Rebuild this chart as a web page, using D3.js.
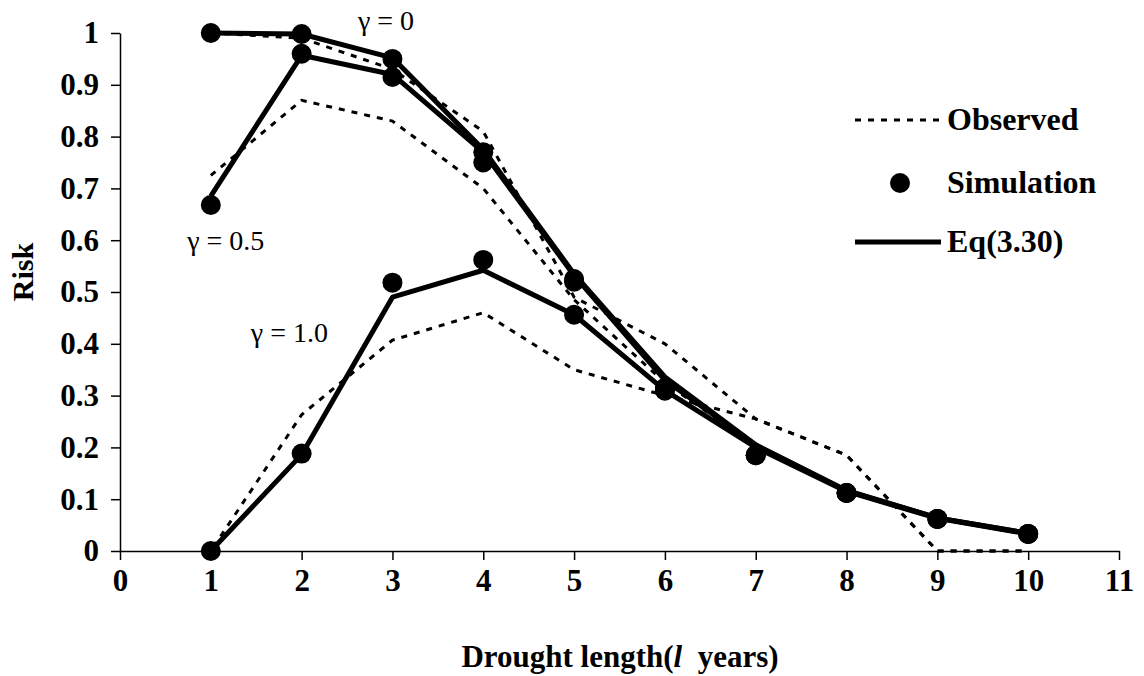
<!DOCTYPE html>
<html>
<head>
<meta charset="utf-8">
<script src="https://cdn.jsdelivr.net/npm/d3@7/dist/d3.min.js"></script>
<style>
  body { margin: 0; background: #fff; }
  text { font-family: "Liberation Serif", "Times New Roman", serif; fill: #000; }
</style>
</head>
<body>
<div id="chart"></div>
<script>
'use strict';

// drought length (years)
let years = [1, 2, 3, 4, 5, 6, 7, 8, 9, 10];
let xTicks = [0, 1, 2, 3, 4, 5, 6, 7, 8, 9, 10, 11];
let yTicks = [0, 0.1, 0.2, 0.3, 0.4, 0.5, 0.6, 0.7, 0.8, 0.9, 1];

// observed risk
let obsG0 = [1.0, 0.99, 0.93, 0.81, 0.49, 0.40, 0.255, 0.185, 0, 0];
let obsG05 = [0.725, 0.87, 0.83, 0.70, 0.485, 0.325, 0.203, 0.116, 0.064, 0.034];
let obsG1 = [0, 0.263, 0.407, 0.46, 0.35, 0.30, 0.255, 0.185, 0, 0];

// simulated risk
let simG0 = [1.0, 0.998, 0.95, 0.77, 0.525, 0.315, 0.185, 0.112, 0.062, 0.033];
let simG05 = [0.668, 0.96, 0.915, 0.75, 0.52, 0.31, 0.185, 0.112, 0.062, 0.033];
let simG1 = [0, 0.188, 0.518, 0.562, 0.456, 0.31, 0.185, 0.112, 0.062, 0.033];

// Eq(3.30)
let eqG0 = [1.0, 0.998, 0.952, 0.775, 0.535, 0.336, 0.205, 0.117, 0.064, 0.034];
let eqG05 = [0.685, 0.957, 0.92, 0.77, 0.532, 0.33, 0.204, 0.116, 0.064, 0.034];
let eqG1 = [0, 0.186, 0.49, 0.542, 0.456, 0.31, 0.2, 0.115, 0.063, 0.033];

let gammaLabels = [
    { text: 'γ = 0', x: 2.62, y: 1.0 },
    { text: 'γ = 0.5', x: 0.74, y: 0.575 },
    { text: 'γ = 1.0', x: 1.44, y: 0.398 }
];

let legendItems = ['Observed', 'Simulation', 'Eq(3.30)'];

draw();

function draw() {
    let width = 1144, height = 676;
    let svg = d3.select('#chart').append('svg')
        .attr('width', width)
        .attr('height', height);

    let x = d3.scaleLinear().domain([0, 11]).range([120, 1119]);
    let y = d3.scaleLinear().domain([0, 1]).range([551, 33]);

    // axes
    let yAxis = svg.append('g')
        .attr('transform', 'translate(' + x(0) + ',0)')
        .call(d3.axisLeft(y).tickValues(yTicks).tickSize(9).tickSizeOuter(0).tickPadding(12)
            .tickFormat(function (d) { return d === 0 || d === 1 ? String(d) : d3.format('.1f')(d); }));
    yAxis.selectAll('text').style('font-size', '31px').style('font-weight', 'bold');

    let xAxis = svg.append('g')
        .attr('transform', 'translate(0,' + y(0) + ')')
        .call(d3.axisBottom(x).tickValues(xTicks).tickSize(9).tickSizeOuter(0).tickPadding(9));
    xAxis.selectAll('text').style('font-size', '31px').style('font-weight', 'bold');

    svg.selectAll('.domain, .tick line').attr('stroke', '#000').attr('stroke-width', 1.5);

    // axis titles
    svg.append('text')
        .attr('transform', 'translate(33,272) rotate(-90)')
        .attr('text-anchor', 'middle')
        .style('font-size', '30px').style('font-weight', 'bold')
        .text('Risk');

    let xt = svg.append('text')
        .attr('x', 620).attr('y', 667)
        .attr('text-anchor', 'middle')
        .style('font-size', '31px').style('font-weight', 'bold');
    xt.append('tspan').text('Drought length(');
    xt.append('tspan').style('font-style', 'italic').text('l');
    xt.append('tspan').text('\u00a0 years)');

    let line = d3.line()
        .x(function (d, i) { return x(years[i]); })
        .y(function (d) { return y(d); });

    // length of a series in pixels up to index n (used to line up dashes where curves share a path)
    function lengthTo(s, n) {
        let len = 0;
        for (let i = 1; i <= n; i++) {
            len += Math.hypot(x(years[i]) - x(years[i - 1]), y(s[i]) - y(s[i - 1]));
        }
        return len;
    }
    let period = 13;
    let off1 = ((lengthTo(obsG0, 6) - lengthTo(obsG1, 6)) % period + period) % period;

    // observed (dashed)
    [[obsG0, 0], [obsG05, 0], [obsG1, off1]].forEach(function (p) {
        svg.append('path')
            .attr('d', line(p[0]))
            .attr('fill', 'none')
            .attr('stroke', '#000')
            .attr('stroke-width', 3)
            .attr('stroke-dasharray', '6,7')
            .attr('stroke-dashoffset', p[1]);
    });

    // Eq(3.30) (solid)
    [eqG0, eqG05, eqG1].forEach(function (s) {
        svg.append('path')
            .attr('d', line(s))
            .attr('fill', 'none')
            .attr('stroke', '#000')
            .attr('stroke-width', 5)
            .attr('stroke-linejoin', 'round');
    });

    // simulation points
    [simG0, simG05, simG1].forEach(function (s) {
        svg.append('g').selectAll('circle')
            .data(s)
            .enter()
            .append('circle')
            .attr('cx', function (d, i) { return x(years[i]); })
            .attr('cy', function (d) { return y(d); })
            .attr('r', 10)
            .attr('fill', '#000');
    });

    // gamma labels
    svg.append('g').selectAll('text')
        .data(gammaLabels)
        .enter()
        .append('text')
        .attr('x', function (d) { return x(d.x); })
        .attr('y', function (d) { return y(d.y) - 3; })
        .style('font-size', '28px')
        .text(function (d) { return d.text; });

    // legend
    let lg = svg.append('g').attr('transform', 'translate(855,0)');
    let rowY = [120, 183, 242];
    lg.append('line')
        .attr('x1', 0).attr('x2', 86).attr('y1', rowY[0]).attr('y2', rowY[0])
        .attr('stroke', '#000').attr('stroke-width', 3).attr('stroke-dasharray', '6,7');
    lg.append('circle')
        .attr('cx', 45).attr('cy', rowY[1]).attr('r', 10).attr('fill', '#000');
    lg.append('line')
        .attr('x1', 0).attr('x2', 86).attr('y1', rowY[2]).attr('y2', rowY[2])
        .attr('stroke', '#000').attr('stroke-width', 5);
    lg.selectAll('text.leg')
        .data(legendItems)
        .enter()
        .append('text')
        .attr('class', 'leg')
        .attr('x', 92)
        .attr('y', function (d, i) { return rowY[i] + 10; })
        .style('font-size', '32px').style('font-weight', 'bold')
        .text(function (d) { return d; });
}
</script>
</body>
</html>
